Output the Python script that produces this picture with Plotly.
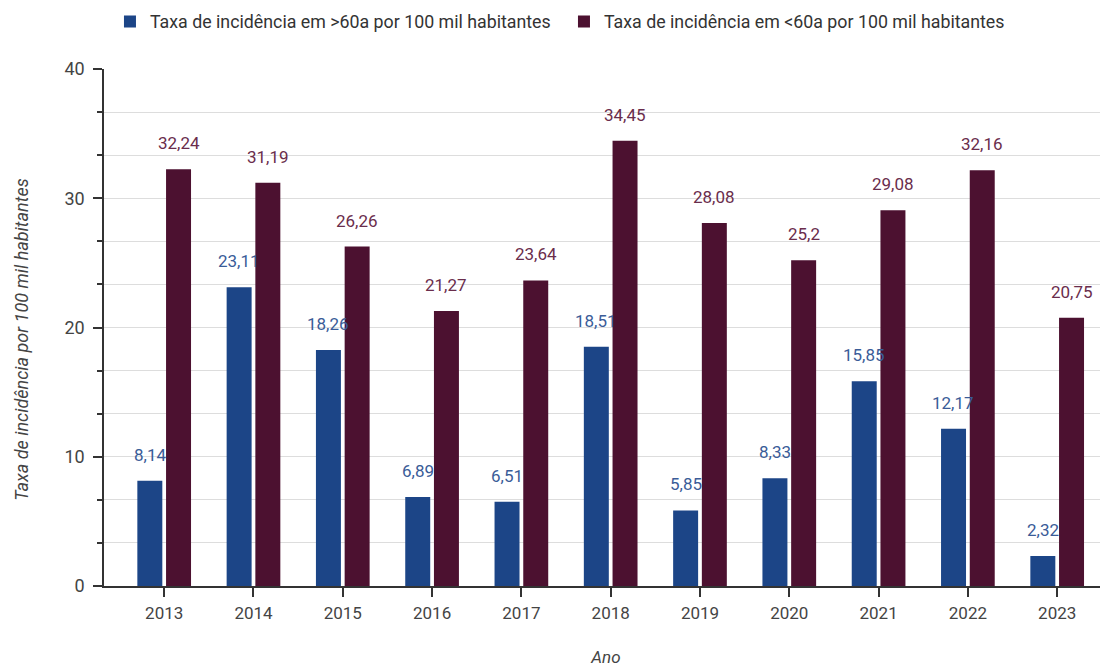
import plotly.graph_objects as go

anos = ["2013", "2014", "2015", "2016", "2017", "2018", "2019", "2020", "2021", "2022", "2023"]
taxa_mais60 = [8.14, 23.11, 18.26, 6.89, 6.51, 18.51, 5.85, 8.33, 15.85, 12.17, 2.32]
taxa_menos60 = [32.24, 31.19, 26.26, 21.27, 23.64, 34.45, 28.08, 25.2, 29.08, 32.16, 20.75]
nome_mais60 = "Taxa de incidência em >60a por 100 mil habitantes"
nome_menos60 = "Taxa de incidência em <60a por 100 mil habitantes"
titulo_y = "Taxa de incidência por 100 mil habitantes"
titulo_x = "Ano"
y_ticks = [0, 10, 20, 30, 40]

AZUL = "#1c4587"
ROXO = "#4c1130"
AZUL_TXT = "#3a5c98"
ROXO_TXT = "#6a2d4c"
FONT = "Roboto"


def fmt(v):
    s = ("%.2f" % v).rstrip("0").rstrip(".")
    return s.replace(".", ",")


fig = go.Figure()
fig.add_trace(go.Bar(x=anos, y=taxa_mais60, name=nome_mais60,
                     marker=dict(color=AZUL, line=dict(width=0))))
fig.add_trace(go.Bar(x=anos, y=taxa_menos60, name=nome_menos60,
                     marker=dict(color=ROXO, line=dict(width=0))))

# category index positions (axis is categorical)
for i, v in enumerate(taxa_mais60):
    fig.add_annotation(x=i, y=v, xref="x", yref="y", text=fmt(v), showarrow=False,
                       xshift=-14.4, yshift=26, yanchor="middle",
                       font=dict(family=FONT, size=17, color=AZUL_TXT))
for i, v in enumerate(taxa_menos60):
    fig.add_annotation(x=i, y=v, xref="x", yref="y", text=fmt(v), showarrow=False,
                       xshift=14.4, yshift=26, yanchor="middle",
                       font=dict(family=FONT, size=17, color=ROXO_TXT))

# y-axis title as annotation (slightly below plot centre, as in the reference)
fig.add_annotation(x=-0.0817, y=0.478, xref="paper", yref="paper", text="<i>" + titulo_y + "</i>",
                   textangle=-90, showarrow=False, xanchor="center", yanchor="middle",
                   font=dict(family=FONT, size=18, color="#444444"))

fig.update_layout(
    width=1100, height=659,
    margin=dict(l=96, r=0, t=61, b=81),
    paper_bgcolor="white", plot_bgcolor="white",
    font=dict(family=FONT, size=17, color="#444444"),
    barmode="group", bargap=0.357, bargroupgap=0.13,
    legend=dict(orientation="h", xref="container", yref="container",
                x=0.0927, xanchor="left", y=0.979, yanchor="middle",
                entrywidth=409, entrywidthmode="pixels",
                font=dict(family=FONT, size=17.8, color="#333333"),
                bgcolor="rgba(0,0,0,0)", traceorder="normal"),
    xaxis=dict(
        type="category",
        range=[-0.674, 10.569], automargin=False,
        showgrid=False, showline=True, linecolor="#333333", linewidth=1.5,
        ticks="outside", ticklen=9, tickcolor="#333333", tickwidth=1.5,
        ticklabelstandoff=2,
        tickfont=dict(family=FONT, size=17, color="#444444"),
        title=dict(text="<i>" + titulo_x + "</i>", font=dict(family=FONT, size=17, color="#444444"), standoff=37),
        zeroline=False,
    ),
    yaxis=dict(
        range=[0, 40], tickvals=y_ticks, automargin=False,
        showgrid=True, gridcolor="#dddddd", gridwidth=1,
        showline=True, linecolor="#333333", linewidth=1.5,
        ticks="outside", ticklen=9, tickcolor="#333333", tickwidth=1.5,
        ticklabelstandoff=5,
        tickfont=dict(family=FONT, size=18, color="#444444"),
        minor=dict(dtick=10 / 3, tick0=0, showgrid=True, gridcolor="#dddddd", gridwidth=1,
                   ticks="outside", ticklen=5, tickcolor="#333333", tickwidth=1.5),
        zeroline=False,
    ),
)

fig.write_html("out.html")
